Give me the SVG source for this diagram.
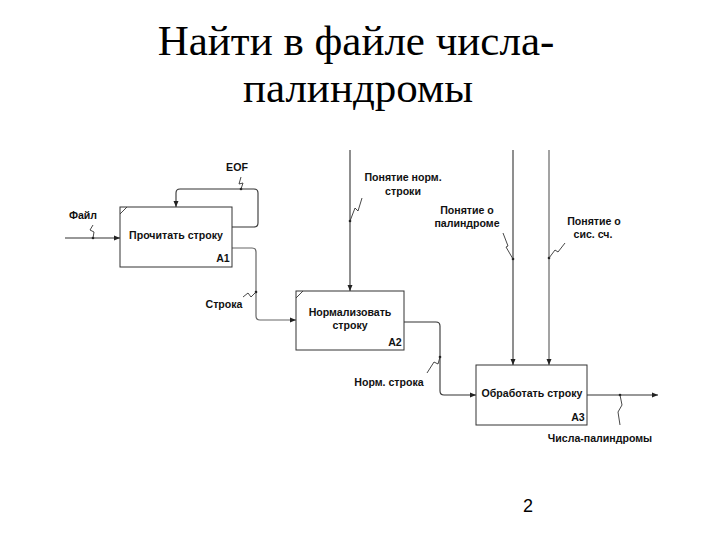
<svg xmlns="http://www.w3.org/2000/svg" width="720" height="540" viewBox="0 0 720 540">
<defs>
<marker id="ah" markerWidth="6" markerHeight="6" refX="6" refY="3" orient="auto" markerUnits="userSpaceOnUse">
<path d="M0,0.5 L6,3 L0,5.5 Z" fill="#222"/>
</marker>
<style>
.box{fill:#fff;stroke:#333;stroke-width:1}
.ln{fill:none;stroke:#333;stroke-width:1.1}
.ln2{fill:none;stroke:#666;stroke-width:1.2}
.sq{fill:none;stroke:#333;stroke-width:0.9}
.dot{fill:#222}
.t{font-family:"Liberation Sans",Arial,sans-serif;font-weight:bold;font-size:10.6px;fill:#111;text-anchor:middle}
.title{font-family:"Liberation Serif","Times New Roman",serif;font-size:43px;fill:#000;text-anchor:middle}
</style>
</defs>
<rect width="720" height="540" fill="#fff"/>
<text class="title" x="356" y="55">Найти в файле числа-</text>
<text class="title" x="358" y="102">палиндромы</text>

<g id="connectors">
<!-- Файл -->
<path class="ln" d="M65,238 H120" marker-end="url(#ah)"/>
<circle class="dot" cx="93" cy="238" r="1.3"/>
<path class="sq" d="M93,238 L94,232 L90,230 L93,225"/>
<!-- EOF loop -->
<path class="ln" d="M232,227 H254 Q258,227 258,223 V193 Q258,189 254,189 H180 Q176,189 176,193 V207" marker-end="url(#ah)"/>
<circle class="dot" cx="241" cy="189" r="1.3"/>
<path class="sq" d="M241,189 L243,183 L239,184 L241,177"/>
<!-- Строка -->
<path class="ln2" d="M232,248 H252 Q256,248 256,252 V316 Q256,320 260,320 H296" marker-end="url(#ah)"/>
<circle class="dot" cx="256" cy="292" r="1.3"/>
<path class="sq" d="M256,292 L251,297 L248,293 L243,297"/>
<!-- Понятие норм. строки -->
<path class="ln" d="M350,150 V291" marker-end="url(#ah)"/>
<circle class="dot" cx="350" cy="221" r="1.3"/>
<path class="sq" d="M350,221 L355,208 L358,211 L362,198"/>
<!-- Норм. строка -->
<path class="ln" d="M404,322 H436 Q440,322 440,326 V391 Q440,395 444,395 H476" marker-end="url(#ah)"/>
<circle class="dot" cx="440" cy="357" r="1.3"/>
<path class="sq" d="M440,357 L438,364 L434,362 L427,373"/>
<!-- Понятие о палиндроме -->
<path class="ln" d="M513,150 V365" marker-end="url(#ah)"/>
<circle class="dot" cx="513" cy="259" r="1.3"/>
<path class="sq" d="M513,259 L506,247 L508,246 L503,233"/>
<!-- Понятие о сис. сч. -->
<path class="ln2" d="M549,150 V365" marker-end="url(#ah)"/>
<circle class="dot" cx="549" cy="258" r="1.3"/>
<path class="sq" d="M549,258 L555,250 L558,252 L565,243"/>
<!-- Числа-палиндромы -->
<path class="ln" d="M587,395 H658" marker-end="url(#ah)"/>
<circle class="dot" cx="620" cy="395" r="1.3"/>
<path class="sq" d="M620,395 L622,405 L618,412 L620,425"/>
</g>

<g id="labels">
<text class="t" x="83" y="219">Файл</text>
<text class="t" x="237" y="171">EOF</text>
<text class="t" x="224" y="308">Строка</text>
<text class="t" x="403" y="181">Понятие норм.</text>
<text class="t" x="403" y="195">строки</text>
<text class="t" x="467" y="214">Понятие о</text>
<text class="t" x="467" y="227">палиндроме</text>
<text class="t" x="594" y="225">Понятие о</text>
<text class="t" x="593" y="238">сис. сч.</text>
<text class="t" x="389" y="386">Норм. строка</text>
<text class="t" x="600" y="442">Числа-палиндромы</text>
</g>

<g id="A1">
<rect class="box" x="120" y="207" width="112" height="60"/>
<path class="sq" d="M120,214 L127,207"/>
<text class="t" x="176" y="239">Прочитать строку</text>
<text class="t" x="223" y="262">A1</text>
</g>
<g id="A2">
<rect class="box" x="296" y="291" width="108" height="59"/>
<path class="sq" d="M296,298 L303,291"/>
<text class="t" x="350" y="316">Нормализовать</text>
<text class="t" x="350" y="329">строку</text>
<text class="t" x="395" y="346">A2</text>
</g>
<g id="A3">
<rect class="box" x="476" y="365" width="111" height="60"/>
<text class="t" x="532" y="397">Обработать строку</text>
<text class="t" x="578" y="421">A3</text>
</g>
<text x="528" y="512" font-family="Liberation Sans,Arial,sans-serif" font-size="18" text-anchor="middle" fill="#000">2</text>
</svg>
